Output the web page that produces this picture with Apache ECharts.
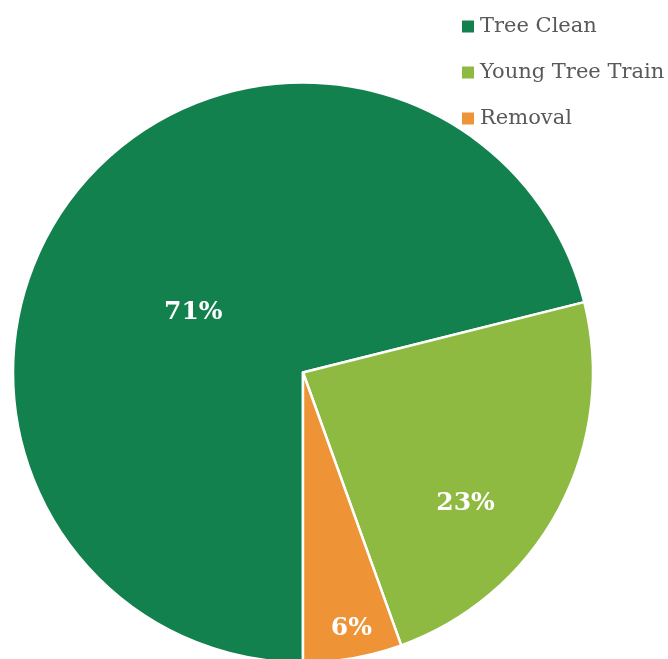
<!DOCTYPE html>
<html><head><meta charset="utf-8">
<script src="https://cdn.jsdelivr.net/npm/echarts@6/dist/echarts.min.js"></script>
<style>html,body{margin:0;padding:0;background:#fff}#c{width:668px;height:659px}</style>
</head><body><div id="c"></div>
<script>
const categories = ['Tree Clean', 'Young Tree Train', 'Removal'];
const values = [71.1, 23.4, 5.5];
const colors = ['#13814D', '#8FBA41', '#EE9336'];
const labelNudge = [[7, 31], [32, 61], [23, 110]];

const chart = echarts.init(document.getElementById('c'));
chart.setOption({
  animation: false,
  color: colors,
  legend: {
    orient: 'vertical',
    left: 460,
    top: 16,
    padding: 0,
    icon: 'rect',
    itemWidth: 14,
    itemHeight: 14,
    itemGap: 25,
    textStyle: { fontFamily: 'DejaVu Serif', fontSize: 21, color: '#595959', lineHeight: 21 },
    data: categories
  },
  series: [{
    type: 'pie',
    center: [303, 372.5],
    radius: 290,
    startAngle: 270,
    clockwise: true,
    avoidLabelOverlap: false,
    itemStyle: { borderColor: '#fff', borderWidth: 2.5 },
    label: {
      position: 'inside',
      formatter: p => Math.round(p.value) + '%',
      fontFamily: 'DejaVu Serif',
      fontWeight: 'bold',
      fontSize: 25,
      color: '#fff'
    },
    labelLine: { show: false },
    labelLayout: function (p) {
      const n = labelNudge[p.dataIndex];
      return { dx: n[0], dy: n[1] };
    },
    data: categories.map((n, i) => ({ name: n, value: values[i] }))
  }]
});
</script></body></html>
